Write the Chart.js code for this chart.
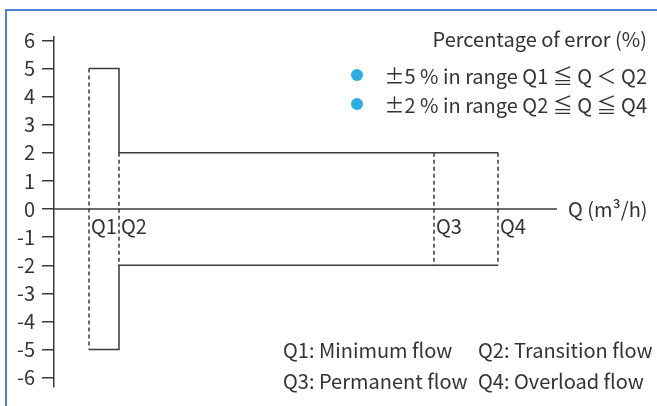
<!DOCTYPE html>
<html>
<head>
<meta charset="utf-8">
<script src="https://cdn.jsdelivr.net/npm/chart.js@4/dist/chart.umd.min.js"></script>
<style>
  html, body { margin: 0; padding: 0; background: #fff; }
  #wrap { position: relative; width: 657px; height: 406px; overflow: hidden; }
  #frame { position: absolute; left: 5px; top: 9px; right: -10px; bottom: -10px;
           border-top: 2px solid #4a7fd3; border-left: 2px solid #4a7fd3; }
  canvas { position: absolute; left: 0; top: 0; }
</style>
</head>
<body>
<div id="wrap">
  <div id="frame"></div>
  <canvas id="err_chart" width="657" height="406"></canvas>
</div>
<script>
// flow positions of Q1..Q4 along the (unscaled) flow axis
const qNames = ['Q1', 'Q2', 'Q3', 'Q4'];
const qFlow = [35, 65, 380, 444];
const flowAxisEnd = 503;
// error limits in %
const wideLimit = 5;
const narrowLimit = 2;
const yTicks = [-6, -5, -4, -3, -2, -1, 0, 1, 2, 3, 4, 5, 6];

const axisTitle = 'Percentage of error (%)';
const rangeLabels = ['±5 % in range Q1 ≦ Q ＜ Q2', '±2 % in range Q2 ≦ Q ≦ Q4'];
const flowNotes = [
    ['Q1: Minimum flow', 'Q2: Transition flow'],
    ['Q3: Permanent flow', 'Q4: Overload flow']
];
const flowUnit = 'Q (m³/h)';

const lineColor = '#3a3a3a';
const textColor = '#333333';
const dotColor = '#2eabe0';
const font = '"Noto Sans CJK JP", "Noto Sans", sans-serif';
const fontSize = 20;

const [q1, q2, q3, q4] = qFlow;

function solid(points) {
    return { data: points, borderColor: lineColor, borderWidth: 1.5, pointRadius: 0, tension: 0 };
}
function dashed(x, top, bottom) {
    return { data: [{x: x, y: top}, {x: x, y: bottom}], borderColor: lineColor,
             borderWidth: 1.5, borderDash: [4, 3], pointRadius: 0 };
}

const datasets = [
    solid([{x: 0, y: 0}, {x: flowAxisEnd, y: 0}]),
    solid([{x: q1, y: wideLimit}, {x: q2, y: wideLimit}, {x: q2, y: narrowLimit}, {x: q4, y: narrowLimit}]),
    solid([{x: q1, y: -wideLimit}, {x: q2, y: -wideLimit}, {x: q2, y: -narrowLimit}, {x: q4, y: -narrowLimit}]),
    dashed(q1, wideLimit, -wideLimit),
    dashed(q2, narrowLimit, -narrowLimit),
    dashed(q3, narrowLimit, -narrowLimit),
    dashed(q4, narrowLimit, -narrowLimit)
];

const textPlugin = {
    id: 'texts',
    afterDraw(chart) {
        const ctx = chart.ctx;
        const xs = chart.scales.x, ys = chart.scales.y;
        ctx.save();
        ctx.fillStyle = textColor;
        ctx.font = fontSize + 'px ' + font;
        ctx.textBaseline = 'middle';

        // Q labels under the axis
        ctx.textAlign = 'left';
        qNames.forEach(function(name, i){
            ctx.fillText(name, xs.getPixelForValue(qFlow[i]) + 2, ys.getPixelForValue(0) + 17);
        });
        ctx.fillText(flowUnit, xs.getPixelForValue(flowAxisEnd) + 11, ys.getPixelForValue(0));

        // title + range legend, right aligned
        ctx.textAlign = 'right';
        ctx.fillText(axisTitle, 647, 39);
        rangeLabels.forEach(function(t, i){
            ctx.fillText(t, 647, 76 + i * 29);
        });
        ctx.fillStyle = dotColor;
        rangeLabels.forEach(function(t, i){
            ctx.beginPath();
            ctx.arc(357, 75 + i * 29, 6, 0, Math.PI * 2);
            ctx.fill();
        });

        // flow notes
        ctx.fillStyle = textColor;
        ctx.textAlign = 'left';
        flowNotes.forEach(function(row, i){
            ctx.fillText(row[0], 283, 350 + i * 31);
            ctx.fillText(row[1], 478, 350 + i * 31);
        });
        ctx.restore();
    }
};

const err_chart = document.getElementById('err_chart').getContext('2d');
const new_chart = new Chart(err_chart, {
    type: 'line',
    data: { datasets: datasets },
    options: {
        responsive: false,
        animation: false,
        layout: { padding: { left: 0, top: 37, right: 10, bottom: 16 } },
        plugins: { legend: { display: false }, tooltip: { enabled: false } },
        scales: {
            x: { type: 'linear', display: false, min: 0, max: 593 },
            y: {
                type: 'linear',
                min: -6.33, max: 6.12,
                afterBuildTicks: function(scale){
                    scale.ticks = yTicks.map(function(v){ return {value: v}; });
                },
                afterFit: function(scale){ scale.width = 54; },
                border: { display: true, color: lineColor, width: 1.5 },
                grid: { drawOnChartArea: false, drawTicks: true, tickLength: 12,
                        color: lineColor, lineWidth: 1.5 },
                ticks: { color: textColor, padding: 7, font: { size: fontSize, family: font } }
            }
        }
    },
    plugins: [textPlugin]
});
</script>
</body>
</html>
